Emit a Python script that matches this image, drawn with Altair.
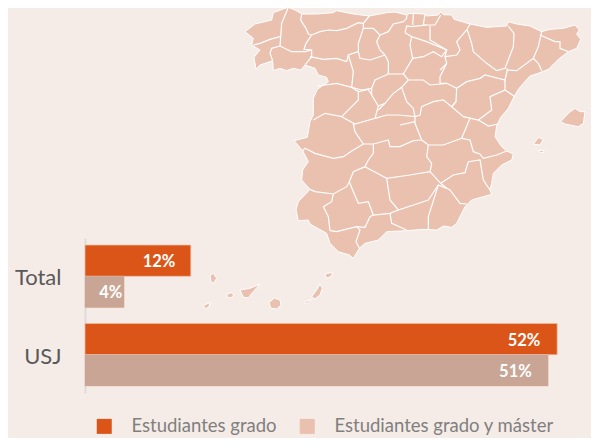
import altair as alt
import pandas as pd

BG = "#f6ece7"; ORANGE = "#dc5518"; TAUPE = "#c8a594"; LAND = "#eac0ae"; GRAY = "#595959"

# --- bars ---
groups = ["Total", "Total", "USJ", "USJ"]
series = ["Estudiantes grado", "Estudiantes grado y máster", "Estudiantes grado", "Estudiantes grado y máster"]
values = [11.65, 4.3, 52.0, 51.0]
labels = ["12%", "4%", "52%", "51%"]
label_at = [9.95, 4.1, 50.15, 49.2]
bars = pd.DataFrame({"g": groups, "s": series, "v": values, "t": labels, "a": label_at})
order = ["Estudiantes grado", "Estudiantes grado y máster"]

# --- map (3x picture units) ---
mainland = [[45,95],[75,72],[125,60],[130,38],[165,25],[175,22],[195,30],[215,42],[260,42],[310,38],[320,32],[370,42],[418,48],[470,38],[495,36],[530,45],[540,40],[585,42],[590,48],[625,45],[632,36],[640,44],[665,45],[672,58],[720,72],[770,82],[830,78],[835,65],[860,72],[900,78],[935,95],[960,88],[1000,85],[1035,75],[1048,90],[1040,102],[1052,118],[1040,145],[1015,155],[985,178],[955,208],[930,218],[900,228],[880,250],[865,268],[852,290],[835,325],[812,352],[800,378],[795,410],[815,440],[830,453],[850,462],[845,480],[815,495],[790,520],[785,550],[780,570],[785,583],[760,590],[725,600],[705,620],[680,670],[665,682],[640,678],[620,690],[580,688],[530,692],[470,695],[445,720],[405,730],[388,745],[370,775],[358,765],[325,755],[300,730],[290,700],[240,672],[235,660],[205,662],[198,630],[205,605],[240,568],[215,540],[218,510],[235,485],[218,452],[192,422],[232,412],[240,365],[250,345],[250,295],[262,268],[295,245],[290,232],[265,225],[255,205],[225,195],[212,210],[190,205],[170,212],[150,205],[130,212],[128,182],[90,195],[78,207],[72,172],[90,150],[65,135],[70,115],[45,95]]
mallorca = [[992,365],[1015,340],[1035,325],[1050,335],[1065,335],[1060,370],[1045,380],[1005,372],[992,365]]
menorca = [[1085,305],[1107,298],[1107,312],[1090,315],[1085,305]]
ibiza = [[910,432],[925,413],[940,418],[930,435],[910,432]]
formentera = [[925,450],[942,452],[940,458],[928,456],[925,450]]
la_palma = [[-60,825],[-50,820],[-40,835],[-50,850],[-57,845],[-60,825]]
hierro = [[-80,917],[-60,907],[-63,920],[-73,926],[-80,917]]
gomera = [[-9,883],[3,878],[12,885],[3,893],[-8,892],[-9,883]]
tenerife = [[30,870],[60,865],[90,852],[70,875],[55,893],[40,892],[30,870]]
gran_canaria = [[117,908],[133,894],[150,900],[153,915],[140,927],[123,925],[117,908]]
fuerteventura = [[245,890],[260,870],[270,852],[277,865],[270,885],[255,897],[245,890]]
jandia = [[222,908],[243,898],[235,908],[225,911],[222,908]]
lanzarote = [[285,822],[307,817],[305,828],[290,835],[285,822]]
islands = [mallorca, menorca, ibiza, formentera, la_palma, hierro, gomera, tenerife, gran_canaria, fuerteventura, jandia, lanzarote]

borders = [
 [[175,22],[155,70],[150,138]],
 [[150,110],[120,118],[90,130],[70,135]],
 [[150,138],[125,145],[120,160],[128,182]],
 [[150,138],[185,155],[225,155],[245,150]],
 [[215,42],[212,60],[228,85],[235,102],[245,105]],
 [[245,105],[270,95],[295,90],[320,92],[350,85],[385,68],[400,70]],
 [[245,105],[228,130],[222,148],[245,150],[245,170],[225,195]],
 [[240,170],[280,178],[320,175],[350,185]],
 [[400,85],[395,100],[385,130],[385,155],[355,165],[350,185]],
 [[418,48],[400,70],[400,85]],
 [[400,85],[430,85],[450,105],[475,95],[490,72],[520,65],[530,55],[530,45]],
 [[385,155],[390,175],[420,180],[465,165]],
 [[450,105],[440,125],[450,150],[465,165]],
 [[525,98],[545,110],[540,135],[548,175],[520,222],[475,222],[475,185],[465,165]],
 [[525,98],[530,78],[545,80],[590,75]],
 [[550,42],[548,75]],
 [[585,42],[580,75],[615,75],[632,45]],
 [[600,78],[600,120],[650,150],[645,170],[680,165],[690,150],[680,125],[710,90],[720,72]],
 [[545,110],[590,125],[650,150],[635,170],[610,155],[580,170],[548,175]],
 [[712,90],[725,130],[730,155],[770,190],[800,212],[825,205],[850,140],[852,100],[835,78]],
 [[630,250],[650,250],[680,265],[710,245],[750,235],[765,225],[825,240],[832,210],[830,205]],
 [[645,170],[650,190],[630,230],[630,250]],
 [[630,210],[650,190]],
 [[520,222],[535,240],[580,240],[600,255],[650,250]],
 [[680,265],[678,305],[665,320],[700,350],[745,360],[785,330],[780,290],[825,270],[825,240]],
 [[825,270],[855,290]],
 [[745,360],[775,378],[805,372]],
 [[830,210],[860,212],[910,175],[925,190],[935,212]],
 [[935,95],[925,140],[910,175]],
 [[930,105],[975,125],[990,125],[990,145],[1015,155]],
 [[475,222],[435,240],[425,265],[425,285],[445,318],[465,310],[490,280],[515,262],[535,240]],
 [[355,165],[370,215],[365,262],[395,270],[425,265]],
 [[262,258],[320,250],[365,262],[385,275],[385,300],[350,335],[335,350],[285,340],[250,360]],
 [[385,275],[415,268],[425,285]],
 [[445,318],[435,355],[375,372],[335,350]],
 [[515,262],[530,305],[550,325],[555,350],[505,345],[470,345],[435,355]],
 [[445,330],[465,310]],
 [[555,350],[570,345],[575,320],[610,305],[640,300],[665,320],[678,305]],
 [[555,350],[555,370],[575,420],[595,435],[640,435],[695,415],[720,355]],
 [[370,372],[375,395],[400,432],[430,432],[475,420],[480,440],[510,440],[550,422],[575,420]],
 [[510,375],[555,365]],
 [[400,432],[370,450],[340,470],[310,475],[255,460],[225,445],[218,452]],
 [[240,568],[255,575],[310,582],[350,560],[358,545],[370,515],[405,500],[415,480],[430,460],[430,432]],
 [[405,500],[470,535],[540,525],[600,515]],
 [[595,435],[590,470],[605,490],[600,515]],
 [[470,535],[480,600],[505,630],[595,600],[625,555]],
 [[600,515],[632,550],[650,565]],
 [[358,545],[370,575],[385,610],[415,605],[430,645],[480,640],[505,630]],
 [[310,582],[305,605],[280,620],[295,650],[300,692]],
 [[300,692],[320,695],[380,680],[405,682],[420,650],[430,645]],
 [[380,680],[390,690],[378,725],[388,745]],
 [[480,640],[485,670],[530,690]],
 [[650,565],[625,555],[595,650],[595,688]],
 [[650,565],[660,570],[690,610],[710,612]],
 [[695,415],[720,420],[730,455],[750,462]],
 [[632,550],[670,525],[705,518],[715,485],[750,480],[760,540],[780,570]],
 [[750,462],[760,475],[800,465],[830,453]],
]

land_features = [{"type": "Feature", "properties": {}, "geometry": {"type": "Polygon", "coordinates": [r]}} for r in [mainland] + islands]
line_features = [{"type": "Feature", "properties": {}, "geometry": {"type": "LineString", "coordinates": b}} for b in borders]
proj = dict(type="identity", scale=1/3, translate=[222, -8])

land = alt.Chart(alt.Data(values=land_features)).mark_geoshape(fill=LAND, stroke="#ffffff", strokeWidth=1).project(**proj)
lines = alt.Chart(alt.Data(values=line_features)).mark_geoshape(filled=False, stroke="#ffffff", strokeWidth=1.2).project(**proj)

xscale = alt.Scale(domain=[0, 55], range=[77, 77 + 55 * 9.08])
x = alt.X("v:Q", axis=None, scale=xscale)
y = alt.Y("g:N", title=None, scale=alt.Scale(domain=["Total", "USJ"], range=[230, 385], paddingInner=0.203, paddingOuter=0.09),
          axis=alt.Axis(offset=-77, ticks=False, labelPadding=24, labelOffset=2, labelFont="Lato", labelFontSize=22, labelColor=GRAY,
                        domainColor="#dcdcdc", domainWidth=2, grid=False))
yo = alt.YOffset("s:N", scale=alt.Scale(domain=order))

base = alt.Chart(bars)
bar_all = base.mark_bar(stroke="#eebfa8", strokeWidth=0.7).encode(
    x=x, y=y, yOffset=yo,
    color=alt.Color("s:N", scale=alt.Scale(domain=order, range=[ORANGE, LAND]),
        legend=alt.Legend(title=None, orient="none", legendX=87, legendY=409, direction="horizontal", columns=2,
                          symbolType="square", symbolSize=225, symbolStrokeWidth=0, symbolOpacity=1,
                          labelFont="Lato", labelFontSize=18.5, labelColor="#808080", labelOffset=18,
                          labelLimit=300, columnPadding=21)))
bar_taupe = base.transform_filter(alt.datum.s == order[1]).mark_bar(color=TAUPE).encode(x=x, y=y, yOffset=yo)
text = base.mark_text(align="right", baseline="middle", dy=1.5, font="Lato", fontWeight="bold", fontSize=16.5, color="#ffffff").encode(
    x=alt.X("a:Q", axis=None, scale=xscale), y=y, yOffset=yo, text="t:N")

chart = alt.layer(land, lines, bar_all, bar_taupe, text).properties(
    width=583, height=430, background=BG, padding=0, autosize=alt.AutoSizeParams(type="none")
).configure_view(stroke=None)

chart.save("out.html", embed_options={"renderer": "svg", "actions": False})
